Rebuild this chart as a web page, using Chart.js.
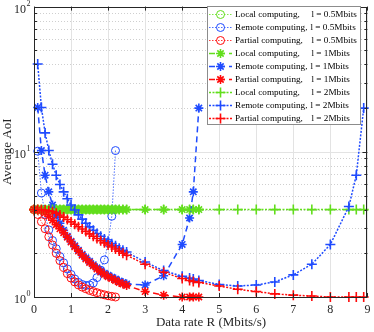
<!DOCTYPE html>
<html>
<head>
<meta charset="utf-8">
<script src="https://cdn.jsdelivr.net/npm/chart.js@4.4.1/dist/chart.umd.min.js"></script>
<style>
  html, body { margin: 0; padding: 0; background: #fff; }
  canvas { display: block; }
</style>
</head>
<body>
<canvas id="aoiChart" width="374" height="332"></canvas>
<script>
// Data rate grids (Mbits/s), one per task size
const rate05 = [0, 0.1, 0.2, 0.3, 0.4, 0.5, 0.6, 0.7, 0.8, 0.9, 1.0, 1.1, 1.2, 1.3, 1.4, 1.5, 1.6, 1.7, 1.8, 1.9, 2.0, 2.1, 2.2];
const rate1 = [0, 0.1, 0.2, 0.3, 0.4, 0.5, 0.6, 0.7, 0.8, 0.9, 1.0, 1.1, 1.2, 1.3, 1.4, 1.5, 1.6, 1.7, 1.8, 1.9, 2.0, 2.1, 2.2, 2.3, 2.4, 2.5,
  3, 3.5, 4, 4.2, 4.3, 4.45];
const rate2 = [0, 0.1, 0.2, 0.3, 0.4, 0.5, 0.6, 0.7, 0.8, 0.9, 1.0, 1.1, 1.2, 1.3, 1.4, 1.5, 1.6, 1.7, 1.8, 1.9, 2.0, 2.1, 2.2, 2.3, 2.4, 2.5,
  3, 3.5, 4, 4.2, 4.3, 4.45, 5, 5.5, 6, 6.5, 7, 7.5, 8, 8.5, 8.7, 8.9];

// Average AoI, l = 0.5 Mbits
const local05 = [4, 4, 4, 4, 4, 4, 4, 4, 4, 4, 4, 4, 4, 4, 4, 4, 4, 4, 4, 4, 4, 4, 4];
const remote05 = [null, 10.1, 5.2, 3.7, 2.9, 2.45, 2.15, 1.9, 1.72, 1.56, 1.43, 1.33, 1.26, 1.22, 1.2, 1.21, 1.25, 1.36, 1.53, 1.8, 2.36, 3.6, 10.2];
const partial05 = [4.0, 3.7, 3.3, 2.95, 2.6, 2.28, 2.0, 1.78, 1.6, 1.45, 1.35, 1.27, 1.21, 1.17, 1.14, 1.11, 1.09, 1.07, 1.05, 1.035, 1.02, 1.01, 1.0];

// Average AoI, l = 1 Mbits
const local1 = [4, 4, 4, 4, 4, 4, 4, 4, 4, 4, 4, 4, 4, 4, 4, 4, 4, 4, 4, 4, 4, 4, 4, 4, 4, 4, 4, 4, 4, 4, 4, 4];
const remote1 = [null, 20.2, 10.2, 6.9, 5.3, 4.3, 3.68, 3.22, 2.88, 2.62, 2.42, 2.25, 2.1, 1.97, 1.86, 1.76, 1.67, 1.59, 1.52, 1.46, 1.41,
  1.37, 1.33, 1.29, 1.26, 1.23, 1.21, 1.4, 2.3, 3.5, 5.3, 20];
const partial1 = [4.0, 3.98, 3.92, 3.8, 3.6, 3.38, 3.15, 2.95, 2.77, 2.58, 2.39, 2.22, 2.07, 1.94, 1.83, 1.73, 1.64, 1.56, 1.49, 1.43, 1.38,
  1.34, 1.3, 1.26, 1.23, 1.2, 1.09, 1.03, 1.0, 1.0, 1.0, 1.0];

// Average AoI, l = 2 Mbits
const local2 = [4, 4, 4, 4, 4, 4, 4, 4, 4, 4, 4, 4, 4, 4, 4, 4, 4, 4, 4, 4, 4, 4, 4, 4, 4, 4, 4, 4, 4, 4, 4, 4, 4, 4, 4, 4, 4, 4, 4, 4, 4, 4];
const remote2 = [null, 40.2, 20.2, 13.5, 10.2, 8.2, 6.9, 5.95, 5.3, 4.75, 4.3, 3.97, 3.68, 3.44, 3.22, 3.04, 2.88, 2.74, 2.62, 2.51, 2.42,
  2.33, 2.25, 2.17, 2.1, 2.04, 1.74, 1.52, 1.39, 1.35, 1.33, 1.3, 1.22, 1.19, 1.21, 1.27, 1.42, 1.68, 2.3, 4.2, 6.9, 20];
const partial2 = [4.0, 4.0, 3.99, 3.97, 3.93, 3.87, 3.78, 3.67, 3.55, 3.42, 3.29, 3.17, 3.05, 2.94, 2.83, 2.72, 2.62, 2.53, 2.44, 2.36, 2.28,
  2.21, 2.14, 2.07, 2.0, 1.94, 1.68, 1.48, 1.34, 1.3, 1.28, 1.26, 1.19, 1.13, 1.09, 1.05, 1.03, 1.015, 1.0, 1.0, 1.0, 1.0];

// Axis ticks
const xTicks = [0, 1, 2, 3, 4, 5, 6, 7, 8, 9];
const yTicks = [1, 10, 100];
const yTickExp = ['0', '1', '2'];

const serif = '"Liberation Serif", "Times New Roman", serif';
const GREEN = '#62de1c';
const BLUE = '#1f4bff';
const RED = '#ff0a0a';

// line style per task size
const styleHalf = { width: 0.8, dash: [1.5, 1.5] };
const styleOne = { width: 1.5, dash: [6, 4] };
const styleTwo = { width: 1.5, dash: [2, 1.5] };

function series(label, rates, values, color, style, marker) {
    const radius = marker === 'circle' ? 4 : marker === 'star' ? 4.5 : 5;
    return {
        label: label,
        data: rates.map((r, i) => ({ x: r, y: values[i] })),
        borderColor: color,
        backgroundColor: 'rgba(0,0,0,0)',
        borderWidth: style.width,
        borderDash: style.dash,
        pointStyle: marker,
        pointRadius: radius,
        pointBorderWidth: marker === 'circle' ? 1 : 1.6,
        pointBorderColor: color,
        pointBackgroundColor: 'rgba(0,0,0,0)',
        tension: 0,
        spanGaps: false,
        clip: false
    };
}

const datasets = [
    series('Local computing,', rate05, local05, GREEN, styleHalf, 'circle'),
    series('Remote computing,', rate05, remote05, BLUE, styleHalf, 'circle'),
    series('Partial computing,', rate05, partial05, RED, styleHalf, 'circle'),
    series('Local computing,', rate1, local1, GREEN, styleOne, 'star'),
    series('Remote computing,', rate1, remote1, BLUE, styleOne, 'star'),
    series('Partial computing,', rate1, partial1, RED, styleOne, 'star'),
    series('Local computing,', rate2, local2, GREEN, styleTwo, 'cross'),
    series('Remote computing,', rate2, remote2, BLUE, styleTwo, 'cross'),
    series('Partial computing,', rate2, partial2, RED, styleTwo, 'cross')
];
const sizeLabels = ['l = 0.5Mbits', 'l = 0.5Mbits', 'l = 0.5Mbits', 'l = 1Mbits', 'l = 1Mbits', 'l = 1Mbits',
    'l = 2Mbits', 'l = 2Mbits', 'l = 2Mbits'];

// MATLAB draws later lines on top
datasets.forEach((d, i) => { d.order = datasets.length - i; });

// Grid lines drawn under the data
const gridPlugin = {
    id: 'gridPlugin',
    beforeDatasetsDraw(chart) {
        const { ctx, chartArea: a, scales: { x, y } } = chart;
        ctx.save();
        ctx.lineWidth = 1;

        // minor horizontal grid, dotted
        ctx.strokeStyle = '#cfcfcf';
        ctx.setLineDash([1, 2]);
        [1, 10].forEach(dec => {
            for (let m = 2; m <= 9; m++) {
                const py = Math.round(y.getPixelForValue(m * dec)) + 0.5;
                ctx.beginPath();
                ctx.moveTo(a.left, py);
                ctx.lineTo(a.right, py);
                ctx.stroke();
            }
        });

        // major grid, solid
        ctx.setLineDash([]);
        ctx.strokeStyle = '#e3e3e3';
        yTicks.forEach(v => {
            const py = Math.round(y.getPixelForValue(v)) + 0.5;
            ctx.beginPath();
            ctx.moveTo(a.left, py);
            ctx.lineTo(a.right, py);
            ctx.stroke();
        });
        xTicks.forEach(v => {
            const px = Math.round(x.getPixelForValue(v)) + 0.5;
            ctx.beginPath();
            ctx.moveTo(px, a.top);
            ctx.lineTo(px, a.bottom);
            ctx.stroke();
        });
        ctx.restore();
    }
};

function drawMarker(ctx, style, radius, width, color, px, py) {
    ctx.strokeStyle = color;
    ctx.fillStyle = 'rgba(0,0,0,0)';
    Chart.helpers.drawPoint(ctx, { pointStyle: style, radius: radius, borderWidth: width, rotation: 0 }, px, py);
}

// Axes box, ticks, labels and legend
const framePlugin = {
    id: 'framePlugin',
    afterDatasetsDraw(chart) {
        const { ctx, chartArea: a, scales: { x, y } } = chart;
        ctx.save();
        ctx.setLineDash([]);
        ctx.strokeStyle = '#262626';
        ctx.lineWidth = 1;

        // box
        ctx.strokeRect(Math.round(a.left) + 0.5, Math.round(a.top) + 0.5,
            Math.round(a.right - a.left) - 1, Math.round(a.bottom - a.top));

        // x ticks (inward, bottom and top)
        xTicks.forEach(v => {
            const px = Math.round(x.getPixelForValue(v)) + 0.5;
            ctx.beginPath();
            ctx.moveTo(px, a.bottom);
            ctx.lineTo(px, a.bottom - 4);
            ctx.moveTo(px, a.top);
            ctx.lineTo(px, a.top + 4);
            ctx.stroke();
        });

        // y ticks, major and minor
        const yTick = (v, len) => {
            const py = Math.round(y.getPixelForValue(v)) + 0.5;
            ctx.beginPath();
            ctx.moveTo(a.left, py);
            ctx.lineTo(a.left + len, py);
            ctx.moveTo(a.right, py);
            ctx.lineTo(a.right - len, py);
            ctx.stroke();
        };
        yTicks.forEach(v => yTick(v, 5));
        [1, 10].forEach(dec => {
            for (let m = 2; m <= 9; m++) yTick(m * dec, 3);
        });

        // tick labels
        ctx.fillStyle = '#262626';
        ctx.font = '12px ' + serif;
        ctx.textAlign = 'center';
        ctx.textBaseline = 'middle';
        xTicks.forEach(v => {
            ctx.fillText(String(v), x.getPixelForValue(v), a.bottom + 13);
        });
        yTicks.forEach((v, i) => {
            const py = y.getPixelForValue(v);
            ctx.font = '12px ' + serif;
            ctx.textAlign = 'right';
            ctx.fillText('10', 26, py + 3);
            ctx.font = '8px ' + serif;
            ctx.textAlign = 'left';
            ctx.fillText(yTickExp[i], 26.5, py - 3);
        });

        // axis titles
        ctx.font = '13px ' + serif;
        ctx.textAlign = 'center';
        ctx.fillText('Data rate R (Mbits/s)', 211, 323);
        ctx.save();
        ctx.translate(8, (a.top + a.bottom) / 2);
        ctx.rotate(-Math.PI / 2);
        ctx.fillText('Average AoI', 0, 0);
        ctx.restore();

        // legend
        const lx = 207, ly = 6, lw = 153, lh = 118;
        ctx.fillStyle = '#ffffff';
        ctx.fillRect(lx, ly, lw, lh);
        ctx.strokeStyle = '#8c8c8c';
        ctx.strokeRect(lx + 0.5, ly + 0.5, lw, lh);
        ctx.font = '9.2px ' + serif;
        datasets.forEach((d, i) => {
            const cy = ly + 8.5 + i * 13;
            ctx.strokeStyle = d.borderColor;
            ctx.lineWidth = d.borderWidth;
            ctx.setLineDash(d.borderDash);
            ctx.beginPath();
            ctx.moveTo(lx + 2, cy);
            ctx.lineTo(lx + 25, cy);
            ctx.stroke();
            ctx.setLineDash([]);
            ctx.lineWidth = d.pointBorderWidth;
            drawMarker(ctx, d.pointStyle, d.pointRadius, d.pointBorderWidth, d.borderColor, lx + 13.5, cy);
            ctx.fillStyle = '#000000';
            ctx.textAlign = 'left';
            ctx.textBaseline = 'middle';
            ctx.fillText(d.label, lx + 28, cy + 0.5);
            const textEnd = lx + 28 + ctx.measureText(d.label).width + 3;
            const colX = Math.max(textEnd, d.label.startsWith('Remote') ? 309 : 311.5);
            ctx.fillText(sizeLabels[i], colX, cy + 0.5);
        });
        ctx.restore();
    }
};

new Chart(document.getElementById('aoiChart'), {
    type: 'line',
    data: { datasets: datasets },
    options: {
        responsive: false,
        animation: false,
        devicePixelRatio: 1,
        layout: { padding: { left: 34, right: 3, top: 6, bottom: 35 } },
        scales: {
            x: { type: 'linear', min: 0, max: 9, display: false },
            y: { type: 'logarithmic', min: 1, max: 100, display: false }
        },
        plugins: {
            legend: { display: false },
            tooltip: { enabled: false }
        }
    },
    plugins: [gridPlugin, framePlugin]
});
</script>
</body>
</html>
